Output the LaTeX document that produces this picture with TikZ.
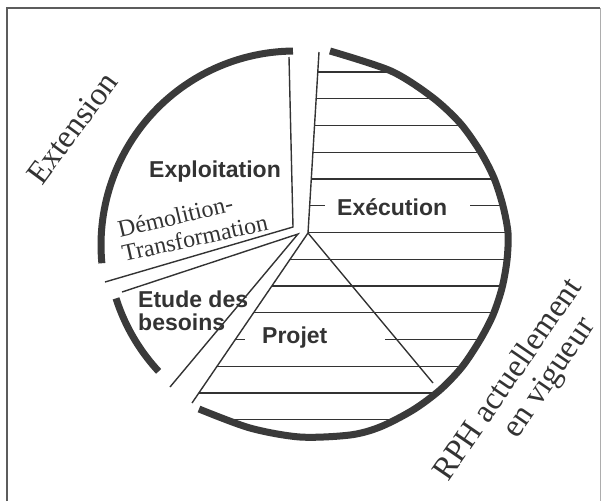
\documentclass[tikz,border=0pt]{standalone}
\usepackage{fontspec}
\setmainfont{Liberation Serif}
\newfontfamily\lsans{Liberation Sans}
\definecolor{ink}{HTML}{333333}
\definecolor{arcink}{HTML}{3A3A3A}
\begin{document}
\begin{tikzpicture}[x=1pt,y=-1pt,
  thickarc/.style={draw=arcink,line width=7pt},
  thinline/.style={draw=ink,line width=1.4pt},
  hatchline/.style={draw=ink,line width=1.3pt},
  frameline/.style={draw=ink!80,line width=1.2pt},
  boldlbl/.style={font=\lsans\bfseries\fontsize{23}{26}\selectfont,text=ink,inner sep=0pt,anchor=base west},
  seriflbl/.style={font=\fontsize{24}{28}\selectfont,text=ink,inner sep=0pt,anchor=base west},
  biglbl/.style={font=\fontsize{32.5}{36}\selectfont,text=ink,inner sep=0pt,anchor=base west}]
\useasboundingbox (0,0) rectangle (607,501);
% frame
\draw[frameline] (7,501) -- (7,8) -- (600,8);
\draw[draw=ink!40,line width=1pt] (600,8) -- (600,501);
% coordinates
\coordinate (vE) at (293,227);
\coordinate (eTop) at (289,57);
\coordinate (eLow) at (105,282);
\coordinate (vB) at (298,234);
\coordinate (bTop) at (122,292);
\coordinate (bLow) at (170,387);
\coordinate (vP) at (308,233);
\coordinate (pLow) at (192,403);
\coordinate (xTop) at (319,52);
\coordinate (dEnd) at (433,383);
% hatching of the RPH part
\begin{scope}
  \clip (320.3,30) -- (vP) -- (175,428) -- (175,480) -- (560,480) -- (560,30) -- cycle;
  \clip plot[smooth] coordinates {(330,51) (391,71) (432,97) (460,123) (480,151) (494,178) (503,206) (508,233) (507,260) (502,288) (493,315) (480,340) (462,367) (440,390) (413,410) (380,427) (350,435) (300,437) (250,428) (199,409)} -- (100,300) -- (100,30) -- cycle;
  \foreach \yy in {72,98.8,125.5,152.3,179,232.5,259.3,286,312.8,366.3,393,419.8}
    \draw[hatchline] (150,\yy) -- (560,\yy);
  \draw[hatchline] (300,205.8) -- (325,205.8);
  \draw[hatchline] (470,205.8) -- (560,205.8);
  \draw[hatchline] (200,339.5) -- (245,339.5);
  \draw[hatchline] (385,339.5) -- (560,339.5);
\end{scope}
% sector edges
\draw[thinline] (eTop) -- (vE) -- (eLow);
\draw[thinline] (bTop) -- (vB) -- (bLow);
\draw[thinline] (xTop) -- (vP) -- (pLow);
\draw[thinline] (vP) -- (dEnd);
% thick arcs
\draw[thickarc] plot[smooth] coordinates {(330,51) (391,71) (432,97) (460,123) (480,151) (494,178) (503,206) (508,233) (507,260) (502,288) (493,315) (480,340) (462,367) (440,390) (413,410) (380,427) (350,435) (300,437) (250,428) (199,409)};
\draw[thickarc] plot[domain=174.6:269.4,samples=60] ({295+194*cos(\x)},{245+194*sin(\x)});
\draw[thickarc] plot[domain=137.1:162.4,samples=30] ({300+193*cos(\x)},{240+193*sin(\x)});
% labels
\node[boldlbl] (expl) at (149,177.3) {Exploitation};
\node[boldlbl] (exec) at (337,215) {Exécution};
\node[boldlbl] (proj) at (262,343.3) {Projet};
\node[boldlbl] (etude1) at (138,307) {Etude des};
\node[boldlbl] (etude2) at (138,330) {besoins};
\node[seriflbl,rotate=13.5] (demo) at (120,238) {Démolition-};
\node[seriflbl,rotate=12.5] (trans) at (124,262) {Transformation};
\node[biglbl,rotate=53.5] (ext) at (42,187) {Extension};
\node[biglbl,rotate=55.5] (rph1) at (448,483) {RPH actuellement};
\node[biglbl,rotate=55.5] (rph2) at (517,440) {en vigueur};
\end{tikzpicture}
\end{document}
